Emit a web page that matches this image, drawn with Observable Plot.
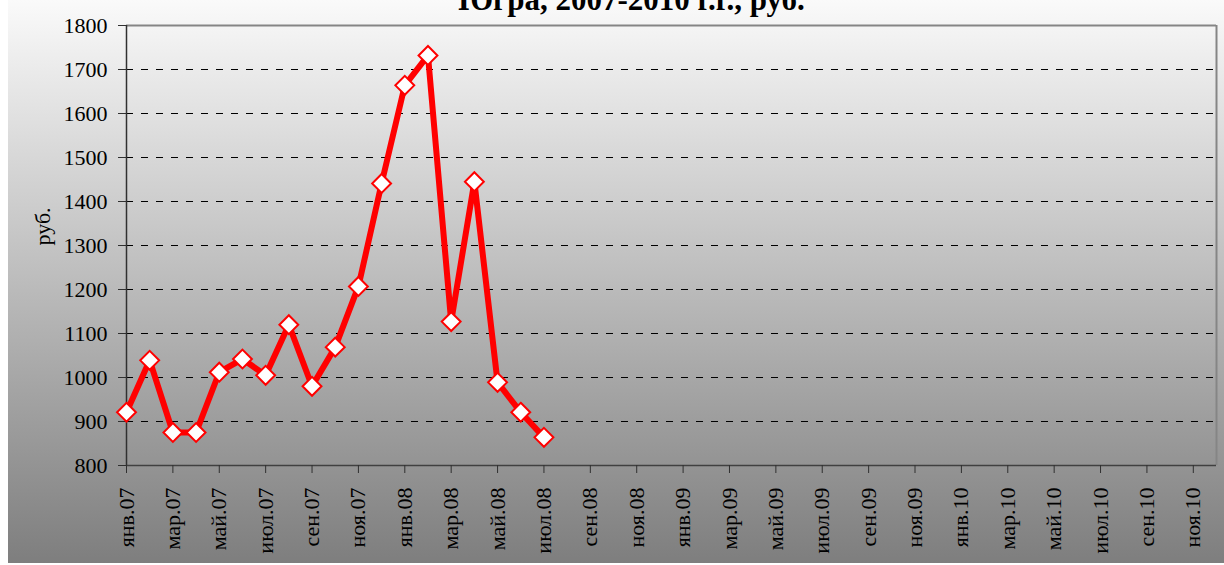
<!DOCTYPE html>
<html><head><meta charset="utf-8">
<script src="https://cdn.jsdelivr.net/npm/d3@7"></script>
<script src="https://cdn.jsdelivr.net/npm/@observablehq/plot@0.6"></script>
<style>
body{margin:0;background:#fff;}
#wrap{position:relative;width:1224px;height:565px;overflow:hidden;}
#bg{position:absolute;left:8px;top:0;width:1216px;height:563px;background:linear-gradient(#fafafa,#7e7e7e);}
#chart{position:absolute;left:0;top:0;}
#chart svg text{font-family:'Liberation Serif','Times New Roman',serif;}
</style></head><body>
<div id="wrap"><div id="bg"></div><div id="chart"></div></div>
<script>
const title = "Югра, 2007-2010 г.г., руб.";
const yLabel = "руб.";
const monthNames = ["янв","фев","мар","апр","май","июн","июл","авг","сен","окт","ноя","дек"];
const years = ["07","08","09","10"];
const months = years.flatMap(y => monthNames.map(m => `${m}.${y}`));
const values = [921,1039,875,875,1012,1042,1005,1120,980,1069,1207,1441,1664,1732,1127,1445,989,921,864];
const yTicks = [800,900,1000,1100,1200,1300,1400,1500,1600,1700,1800];
const xTicks = months.filter((_, i) => i % 2 === 0);

const data = values.map((v, i) => ({month: months[i], value: v}));
const serif = "'Liberation Serif', 'Times New Roman', serif";

const chart = Plot.plot({
  width: 1224, height: 565,
  marginLeft: 126, marginRight: 8, marginTop: 25, marginBottom: 100,
  style: {background: "transparent", fontFamily: serif, fontSize: "22px", color: "black"},
  x: {type: "point", domain: months, padding: 0, round: false},
  y: {domain: [800, 1800]},
  marks: [
    Plot.ruleY(yTicks.slice(1, -1), {stroke: "black", strokeDasharray: "7,8"}),
    Plot.ruleY([1800], {stroke: "#858585", strokeWidth: 2}),
    Plot.ruleX([months[months.length - 1]], {stroke: "#858585", strokeWidth: 2}),
    Plot.ruleY([800], {stroke: "#404040", strokeWidth: 1.5}),
    Plot.ruleX([months[0]], {stroke: "#303030", strokeWidth: 1.5}),
    Plot.axisY({ticks: yTicks, tickSize: 8, tickPadding: 11, label: null, tickFormat: d => String(d), stroke: "#303030", fontFamily: serif, fontSize: 22}),
    Plot.axisX({ticks: xTicks, tickSize: 8, tickPadding: 14, tickRotate: -90, label: null, stroke: "#303030", fontFamily: serif, fontSize: 22}),
    Plot.text([yLabel], {text: d => d, frameAnchor: "left", rotate: -90, dx: -84, fontSize: 22, fontFamily: serif}),
    Plot.text([title], {text: d => d, frameAnchor: "top", dy: -16, dx: -40, lineAnchor: "bottom", fontSize: 31, fontWeight: "bold", fontFamily: serif}),
    Plot.line(data, {x: "month", y: "value", stroke: "#ff0000", strokeWidth: 6, strokeLinejoin: "round"}),
    Plot.dot(data, {x: "month", y: "value", symbol: "diamond2", r: 8.5, fill: "white", stroke: "#ff0000", strokeWidth: 2})
  ]
});
document.getElementById("chart").appendChild(chart);
</script>
</body></html>
